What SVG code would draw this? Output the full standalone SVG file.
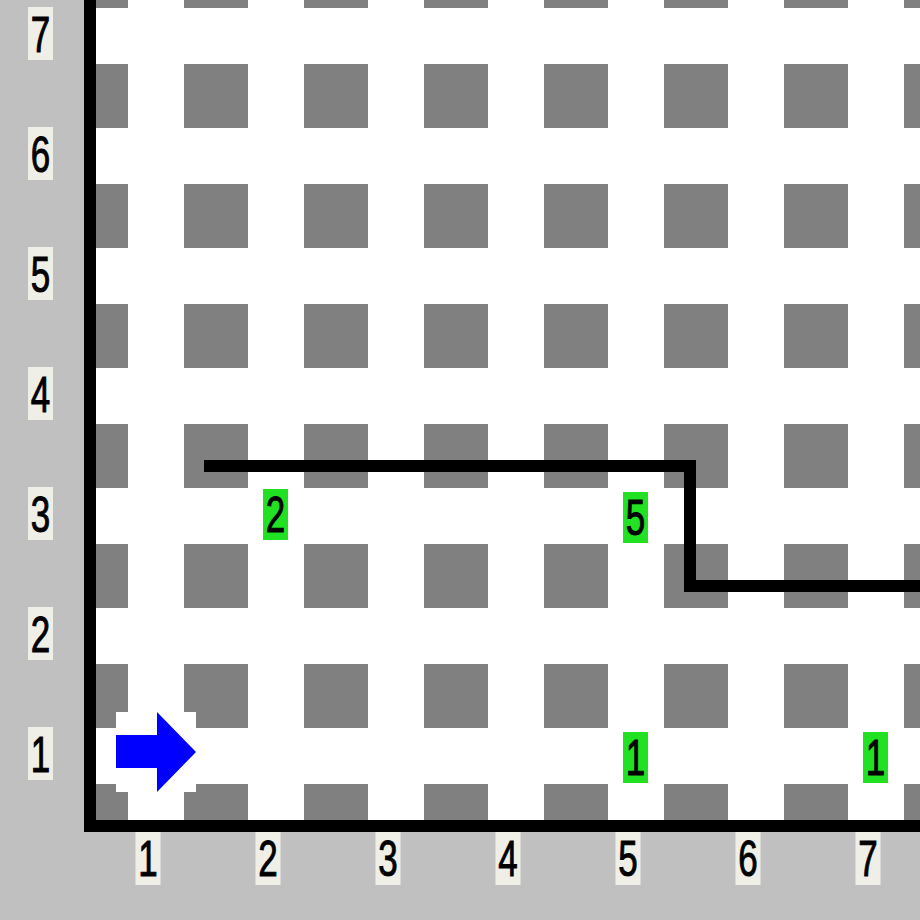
<svg xmlns="http://www.w3.org/2000/svg" width="920" height="920" viewBox="0 0 920 920">
<style>
.lbox{fill:#efefe7}
.num{font-family:"Liberation Sans",Arial,sans-serif;font-size:50px;fill:#000;stroke:#000;stroke-width:1;text-anchor:middle}
.beeper{fill:#22e022}
.wall{stroke:#000;stroke-width:12;fill:none;stroke-linejoin:miter}
</style>
<defs>
<pattern id="posts" patternUnits="userSpaceOnUse" x="64" y="64" width="120" height="120">
<rect x="0" y="0" width="64" height="64" fill="#808080"/>
</pattern>
</defs>
<rect x="0" y="0" width="920" height="920" fill="#c0c0c0"/>
<rect x="96" y="0" width="824" height="820" fill="#ffffff"/>
<rect x="96" y="0" width="824" height="820" fill="url(#posts)"/>
<g id="frame">
<rect x="84" y="0" width="12" height="832" fill="#000"/>
<rect x="84" y="820" width="836" height="12" fill="#000"/>
</g>
<g id="row-labels">
<rect class="lbox" x="28" y="7" width="25" height="53"/>
<rect class="lbox" x="28" y="127" width="25" height="53"/>
<rect class="lbox" x="28" y="247" width="25" height="53"/>
<rect class="lbox" x="28" y="367" width="25" height="53"/>
<rect class="lbox" x="28" y="487" width="25" height="53"/>
<rect class="lbox" x="28" y="607" width="25" height="53"/>
<rect class="lbox" x="28" y="727" width="25" height="53"/>
<text class="num" transform="translate(40.5,52) scale(0.7,1)">7</text>
<text class="num" transform="translate(40.5,172) scale(0.7,1)">6</text>
<text class="num" transform="translate(40.5,292) scale(0.7,1)">5</text>
<text class="num" transform="translate(40.5,412) scale(0.7,1)">4</text>
<text class="num" transform="translate(40.5,532) scale(0.7,1)">3</text>
<text class="num" transform="translate(40.5,652) scale(0.7,1)">2</text>
<text class="num" transform="translate(40.5,772) scale(0.7,1)">1</text>
</g>
<g id="col-labels">
<rect class="lbox" x="135.5" y="832" width="25" height="53"/>
<rect class="lbox" x="255.5" y="832" width="25" height="53"/>
<rect class="lbox" x="375.5" y="832" width="25" height="53"/>
<rect class="lbox" x="495.5" y="832" width="25" height="53"/>
<rect class="lbox" x="615.5" y="832" width="25" height="53"/>
<rect class="lbox" x="735.5" y="832" width="25" height="53"/>
<rect class="lbox" x="855.5" y="832" width="25" height="53"/>
<text class="num" transform="translate(148,876) scale(0.7,1)">1</text>
<text class="num" transform="translate(268,876) scale(0.7,1)">2</text>
<text class="num" transform="translate(388,876) scale(0.7,1)">3</text>
<text class="num" transform="translate(508,876) scale(0.7,1)">4</text>
<text class="num" transform="translate(628,876) scale(0.7,1)">5</text>
<text class="num" transform="translate(748,876) scale(0.7,1)">6</text>
<text class="num" transform="translate(868,876) scale(0.7,1)">7</text>
</g>
<g id="connectors">
<polyline class="wall" points="204,466 690,466 690,586 920,586"/>
</g>
<g id="robot">
<rect x="116" y="712" width="80" height="80" fill="#ffffff"/>
<polygon points="116,735 157,735 157,712 196,752 157,792 157,768 116,768" fill="#0000ff"/>
</g>
<g id="beeper-2-3">
<rect class="beeper" x="263" y="489" width="25" height="51"/>
<text class="num" transform="translate(275.5,532) scale(0.7,1)">2</text>
</g>
<g id="beeper-5-3">
<rect class="beeper" x="623" y="492" width="25" height="51"/>
<text class="num" transform="translate(635.5,535) scale(0.7,1)">5</text>
</g>
<g id="beeper-5-1">
<rect class="beeper" x="623" y="732" width="25" height="51"/>
<text class="num" transform="translate(635.5,775) scale(0.7,1)">1</text>
</g>
<g id="beeper-7-1">
<rect class="beeper" x="863" y="732" width="25" height="51"/>
<text class="num" transform="translate(875.5,775) scale(0.7,1)">1</text>
</g>
</svg>
